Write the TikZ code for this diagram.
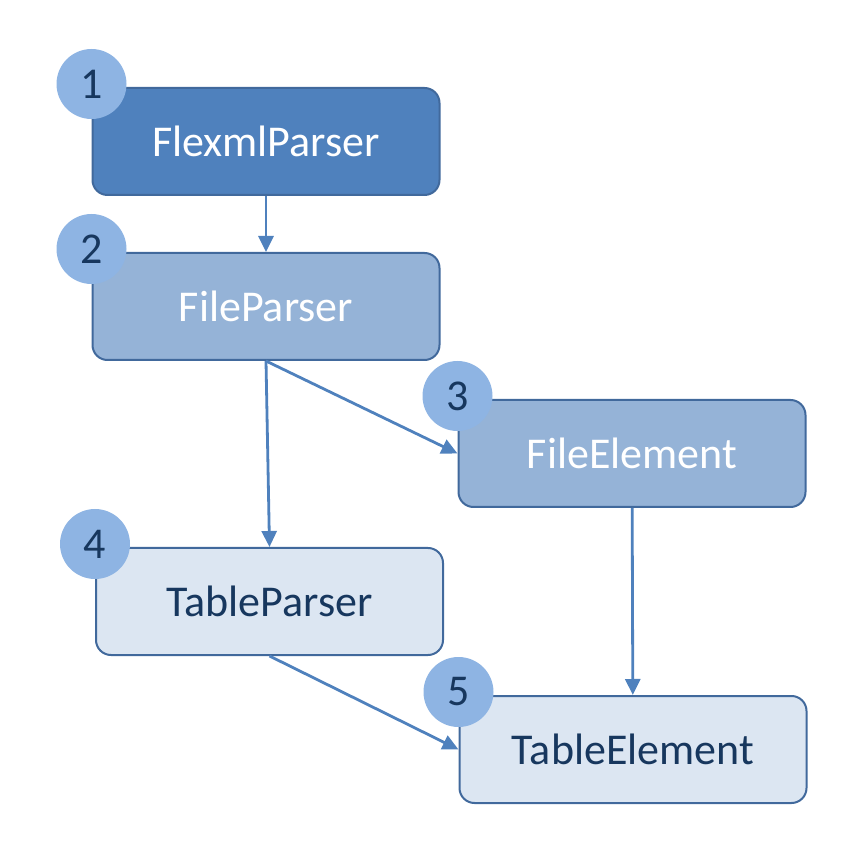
\documentclass[tikz,border=0pt]{standalone}
\usepackage{fontspec}
\setmainfont{Carlito}
\usetikzlibrary{shapes.geometric, arrows.meta}
\definecolor{darkfill}{HTML}{4F81BD}
\definecolor{midfill}{HTML}{95B3D7}
\definecolor{lightfill}{HTML}{DCE6F2}
\definecolor{edgeblue}{HTML}{41699C}
\definecolor{numfill}{HTML}{8EB4E3}
\definecolor{navy}{HTML}{17375E}
\tikzstyle{classbox} = [rectangle, rounded corners=15pt, minimum width=347pt, minimum height=107pt, text centered, draw=edgeblue, line width=2pt, font=\fontsize{44}{52}\selectfont]
\tikzstyle{darkbox} = [classbox, fill=darkfill, text=white]
\tikzstyle{midbox} = [classbox, fill=midfill, text=white]
\tikzstyle{lightbox} = [classbox, fill=lightfill, text=navy]
\tikzstyle{numcircle} = [circle, minimum size=70pt, inner sep=0pt, fill=numfill, text=navy, font=\fontsize{44}{52}\selectfont, yshift=3pt]
\tikzstyle{arrow} = [line width=2.8pt, draw=darkfill, -{Triangle[length=16pt,width=15pt]}]

\begin{document}
\begin{tikzpicture}[x=1pt, y=-1pt, node distance=165pt]
\useasboundingbox (0,0) rectangle (863,858);
\node (flexml) [darkbox] at (266,141.5) {FlexmlParser};
\node (fileparser) [midbox, below of=flexml] {FileParser};
\node (fileelement) [midbox, below of=fileparser, xshift=366pt, yshift=18pt] {FileElement};
\node (tableparser) [lightbox, below of=fileparser, xshift=3.5pt, yshift=-130pt] {TableParser};
\node (tableelement) [lightbox, below of=fileelement, xshift=1pt, yshift=-131pt] {TableElement};
\draw [arrow] (flexml) -- (fileparser);
\draw [arrow] (fileparser.south) -- (tableparser.north);
\draw [arrow] (fileparser.south) -- (fileelement.west);
\draw [arrow] (fileelement) -- (tableelement);
\draw [arrow] (tableparser.south) -- (tableelement.west);
\node (num1) [numcircle] at (flexml.north west) {1};
\node (num2) [numcircle] at (fileparser.north west) {2};
\node (num3) [numcircle] at (fileelement.north west) {3};
\node (num4) [numcircle] at (tableparser.north west) {4};
\node (num5) [numcircle] at (tableelement.north west) {5};
\end{tikzpicture}
\end{document}
